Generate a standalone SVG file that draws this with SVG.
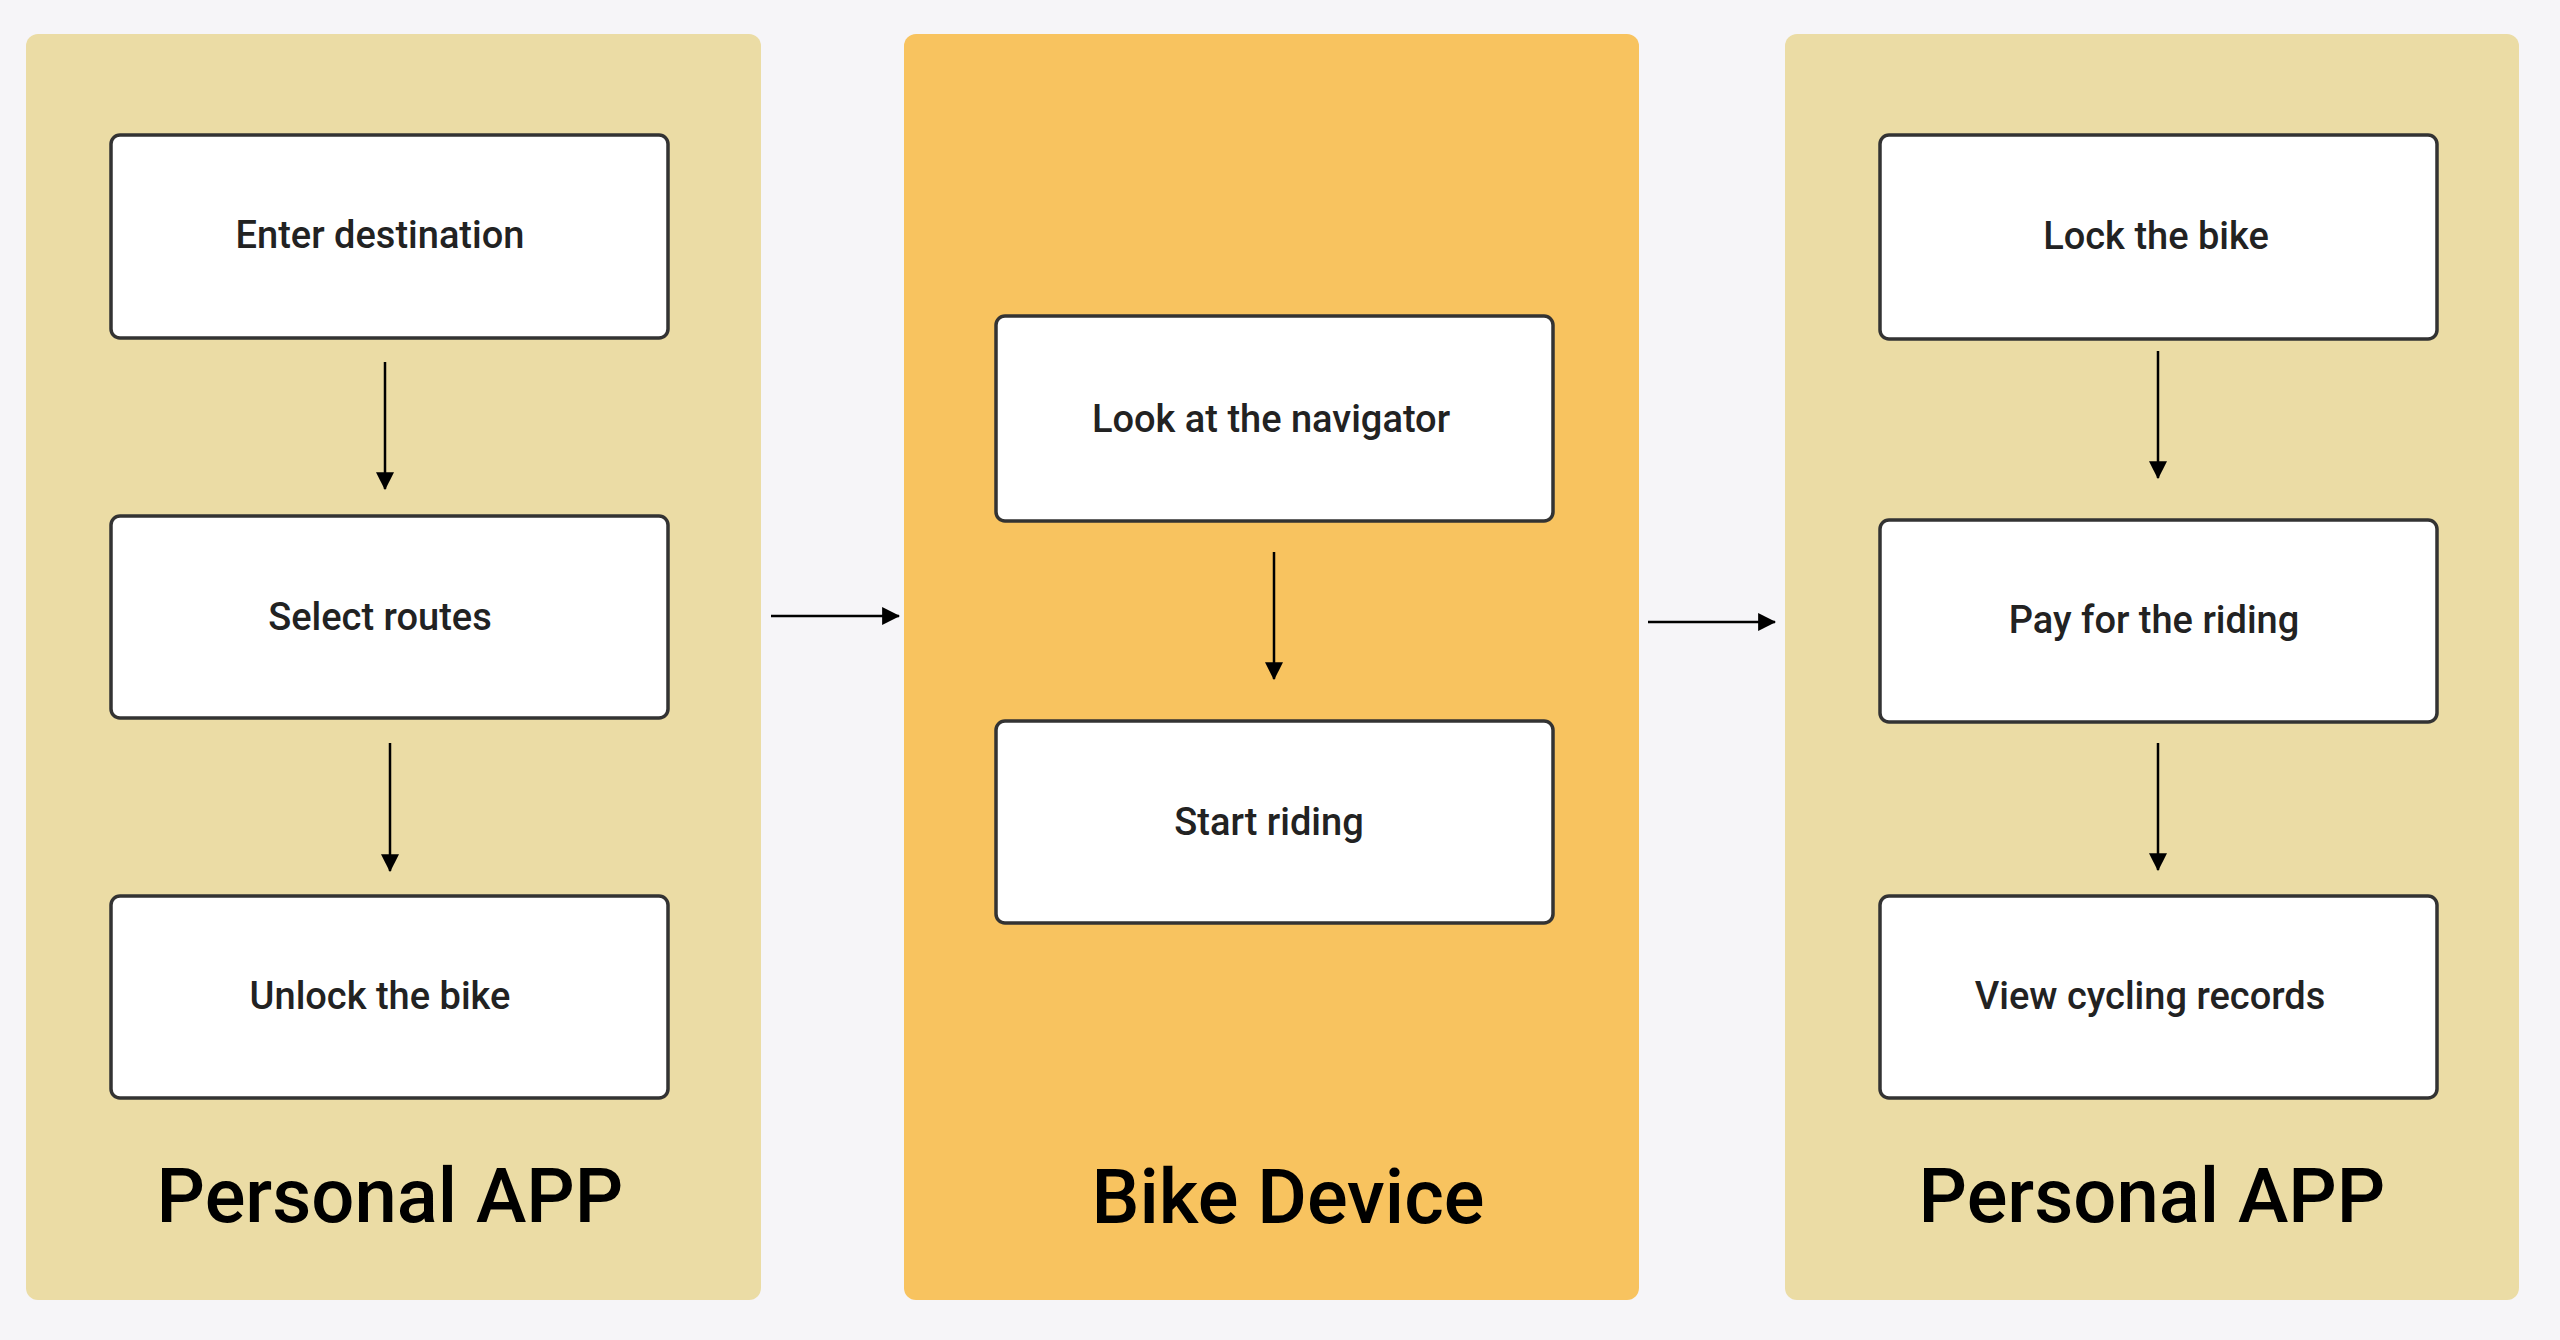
<svg xmlns="http://www.w3.org/2000/svg" width="2560" height="1340" viewBox="0 0 2560 1340">
<style>
.bg{fill:#f6f5f8}
.app{fill:#ebdca5}
.dev{fill:#f8c35f}
.box{fill:#ffffff;stroke:#333333;stroke-width:3.5}
.lbl{font-family:Roboto,"Liberation Sans",sans-serif;font-size:38px;font-weight:500;fill:#222222;text-anchor:middle}
.ttl{font-family:Roboto,"Liberation Sans",sans-serif;font-size:76px;font-weight:500;fill:#000000;text-anchor:middle}
.edge{stroke:#000000;stroke-width:2.5;fill:none;marker-end:url(#ah)}
</style>
<defs>
<marker id="ah" markerUnits="userSpaceOnUse" markerWidth="18" markerHeight="18" viewBox="0 0 16 16" refX="15" refY="8" orient="auto">
<path d="M0,0 L16,8 L0,16 Z" fill="#000000"/>
</marker>
</defs>
<rect class="bg" x="0" y="0" width="2560" height="1340"/>
<g id="lane-left">
<rect class="app" x="26" y="34" width="735" height="1266" rx="12"/>
<text class="ttl" x="390" y="1222">Personal APP</text>
</g>
<g id="lane-middle">
<rect class="dev" x="904" y="34" width="735" height="1266" rx="12"/>
<text class="ttl" x="1288" y="1223">Bike Device</text>
</g>
<g id="lane-right">
<rect class="app" x="1785" y="34" width="734" height="1266" rx="12"/>
<text class="ttl" x="2152" y="1222">Personal APP</text>
</g>
<g id="n-enter">
<rect class="box" x="111" y="135" width="557" height="203" rx="9"/>
<text class="lbl" x="380" y="248">Enter destination</text>
</g>
<g id="n-select">
<rect class="box" x="111" y="516" width="557" height="202" rx="9"/>
<text class="lbl" x="380" y="630">Select routes</text>
</g>
<g id="n-unlock">
<rect class="box" x="111" y="896" width="557" height="202" rx="9"/>
<text class="lbl" x="380" y="1009">Unlock the bike</text>
</g>
<g id="n-look">
<rect class="box" x="996" y="316" width="557" height="205" rx="9"/>
<text class="lbl" x="1271" y="432">Look at the navigator</text>
</g>
<g id="n-start">
<rect class="box" x="996" y="721" width="557" height="202" rx="9"/>
<text class="lbl" x="1269" y="835">Start riding</text>
</g>
<g id="n-lock">
<rect class="box" x="1880" y="135" width="557" height="204" rx="9"/>
<text class="lbl" x="2156" y="249">Lock the bike</text>
</g>
<g id="n-pay">
<rect class="box" x="1880" y="520" width="557" height="202" rx="9"/>
<text class="lbl" x="2154" y="633">Pay for the riding</text>
</g>
<g id="n-view">
<rect class="box" x="1880" y="896" width="557" height="202" rx="9"/>
<text class="lbl" x="2150" y="1009">View cycling records</text>
</g>
<g id="connectors">
<line class="edge" x1="385" y1="362" x2="385" y2="489"/>
<line class="edge" x1="390" y1="743" x2="390" y2="871"/>
<line class="edge" x1="771" y1="616" x2="899" y2="616"/>
<line class="edge" x1="1274" y1="552" x2="1274" y2="679"/>
<line class="edge" x1="1648" y1="622" x2="1775" y2="622"/>
<line class="edge" x1="2158" y1="351" x2="2158" y2="478"/>
<line class="edge" x1="2158" y1="743" x2="2158" y2="870"/>
</g>
</svg>
